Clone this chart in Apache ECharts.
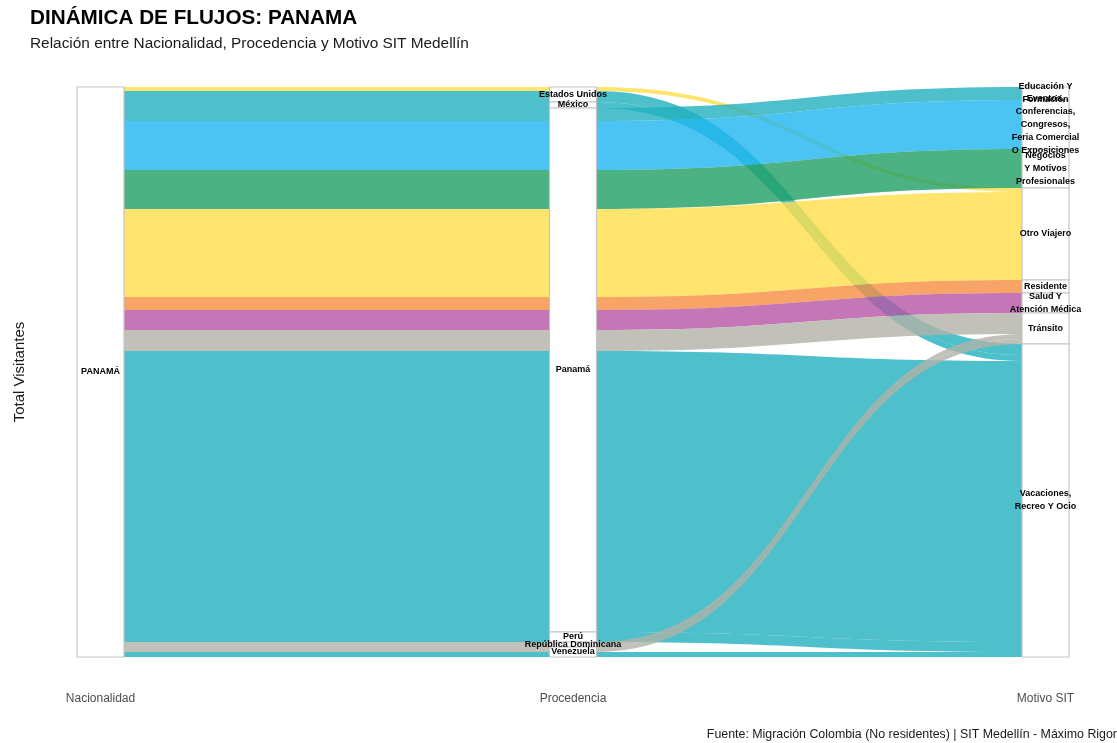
<!DOCTYPE html>
<html><head><meta charset="utf-8">
<script src="https://cdn.jsdelivr.net/npm/echarts@6/dist/echarts.min.js"></script>
<style>html,body{margin:0;padding:0;background:#fff}#c{width:1117px;height:743px}</style>
</head><body><div id="c"></div>
<script>
const titulo = 'DINÁMICA DE FLUJOS: PANAMA';
const subtitulo = 'Relación entre Nacionalidad, Procedencia y Motivo SIT Medellín';
const fuente = 'Fuente: Migración Colombia (No residentes) | SIT Medellín - Máximo Rigor';
const ejes = ['Nacionalidad', 'Procedencia', 'Motivo SIT'];
const ejeY = 'Total Visitantes';

const nacionalidad = 'PANAMÁ';
const procedencias = ['Estados Unidos', 'México', 'Panamá', 'Perú', 'República Dominicana', 'Venezuela'];
const motivos = [
  'Educación Y Formación',
  'Eventos, Conferencias, Congresos, Feria Comercial O Exposiciones',
  'Negocios Y Motivos Profesionales',
  'Otro Viajero',
  'Residente',
  'Salud Y Atención Médica',
  'Tránsito',
  'Vacaciones, Recreo Y Ocio'
];
const motivoEtiquetas = [
  'Educación Y\nFormación',
  'Eventos,\nConferencias,\nCongresos,\nFeria Comercial\nO Exposiciones',
  'Negocios\nY Motivos\nProfesionales',
  'Otro Viajero',
  'Residente',
  'Salud Y\nAtención Médica',
  'Tránsito',
  'Vacaciones,\nRecreo Y Ocio'
];
const motivoColores = ['#22b0bf', '#1eb5f0', '#1f9f64', '#ffdf4a', '#f68d40', '#b754a4', '#b2b2a8', '#22b0bf'];

// visitantes estimados por procedencia (filas) y motivo (columnas, en el orden de "motivos")
const flujosEstadosUnidos = [0, 0, 0, 4, 0, 0, 0, 11];
const flujosMexico        = [0, 0, 0, 0, 0, 0, 0, 6];
const flujosPanama        = [13, 49, 39, 88, 13, 20, 21, 281];
const flujosPeru          = [0, 0, 0, 0, 0, 0, 0, 10];
const flujosRepDominicana = [0, 0, 0, 0, 0, 0, 5, 0];
const flujosVenezuela     = [0, 0, 0, 0, 0, 0, 5, 5];
const flujos = [flujosEstadosUnidos, flujosMexico, flujosPanama, flujosPeru, flujosRepDominicana, flujosVenezuela];

const FONT = 'Liberation Sans, Arial, sans-serif';

const nodes = [{ name: nacionalidad }]
  .concat(procedencias.map(p => ({ name: p })))
  .concat(motivos.map((m, i) => ({ name: m, label: { formatter: motivoEtiquetas[i] } })));

const links = [];
procedencias.forEach((p, pi) => {
  flujos[pi].forEach((v, mi) => {
    if (v > 0) links.push({ source: nacionalidad, target: p, value: v, lineStyle: { color: motivoColores[mi] } });
  });
});
procedencias.forEach((p, pi) => {
  flujos[pi].forEach((v, mi) => {
    if (v > 0) links.push({ source: p, target: motivos[mi], value: v, lineStyle: { color: motivoColores[mi] } });
  });
});

const chart = echarts.init(document.getElementById('c'));
chart.setOption({
  backgroundColor: '#fff',
  animation: false,
  textStyle: { fontFamily: FONT },
  title: [
    { text: titulo, left: 30, top: 6, padding: 0,
      textStyle: { fontSize: 20.7, fontWeight: 'bold', color: '#000', lineHeight: 24, fontFamily: FONT } },
    { text: subtitulo, left: 30, top: 35, padding: 0,
      textStyle: { fontSize: 15.4, fontWeight: 'normal', color: '#1a1a1a', lineHeight: 17, fontFamily: FONT } },
    { text: fuente, right: 0, top: 728, padding: 0,
      textStyle: { fontSize: 12.4, fontWeight: 'normal', color: '#1a1a1a', lineHeight: 14, fontFamily: FONT } }
  ],
  grid: { left: 100.5, right: 71.5, top: 87, bottom: 86, show: false },
  xAxis: {
    type: 'category', data: ejes, boundaryGap: false,
    axisLine: { show: false }, axisTick: { show: false }, splitLine: { show: false },
    axisLabel: { margin: 36, color: '#4d4d4d', fontSize: 12, fontFamily: FONT }
  },
  yAxis: {
    type: 'value', name: ejeY, nameLocation: 'middle', nameGap: 73, nameRotate: 90,
    nameTextStyle: { fontSize: 15, color: '#1a1a1a', fontFamily: FONT },
    axisLabel: { show: false }, axisLine: { show: false }, axisTick: { show: false }, splitLine: { show: false }
  },
  series: [{
    type: 'sankey',
    left: 77, top: 87, right: 48, bottom: 86,
    nodeWidth: 47, nodeGap: 0, layoutIterations: 0, nodeAlign: 'justify',
    draggable: false, silent: true,
    emphasis: { disabled: true },
    itemStyle: { color: '#fff', borderColor: '#c4c4c4', borderWidth: 1.2 },
    lineStyle: { opacity: 0.8, curveness: 0.5 },
    label: { position: 'inside', color: '#000', fontSize: 9, fontWeight: 'bold', lineHeight: 13, fontFamily: FONT },
    data: nodes,
    links: links
  }]
});
</script>
</body></html>
